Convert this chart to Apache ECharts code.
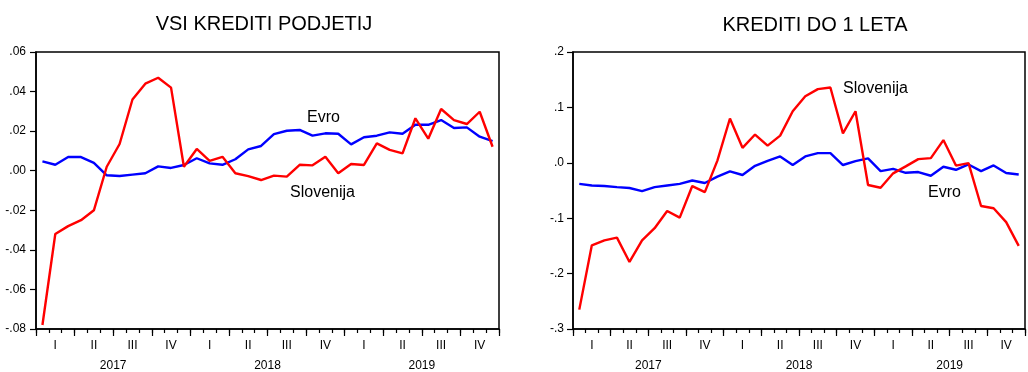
<!DOCTYPE html>
<html>
<head>
<meta charset="utf-8">
<script src="https://cdn.jsdelivr.net/npm/echarts@6/dist/echarts.min.js"></script>
<style>
  html, body { margin: 0; padding: 0; background: #fff; }
  #chart { width: 1028px; height: 372px; }
</style>
</head>
<body>
<div id="chart"></div>
<script>
// Monthly observations, Jan 2017 – Dec 2019
const months = [];
for (let y = 2017; y <= 2019; y++) {
  for (let m = 1; m <= 12; m++) months.push(y + '-' + String(m).padStart(2, '0'));
}
const quarterLabels = ['I', 'II', 'III', 'IV'];
const yearLabels = ['2017', '2018', '2019'];

// VSI KREDITI PODJETIJ
const allSlovenija = [
  -0.078, -0.032, -0.028, -0.025, -0.020, 0.002, 0.0135, 0.036, 0.044, 0.047, 0.042, 0.002,
  0.011, 0.005, 0.007, -0.0013, -0.0027, -0.0047, -0.0025, -0.003, 0.003, 0.0027, 0.007, -0.0013,
  0.0034, 0.0029, 0.0138, 0.0105, 0.0088, 0.0265, 0.0162, 0.0312, 0.0256, 0.0236, 0.0298, 0.0121
];
const allEvro = [
  0.0047, 0.003, 0.0069, 0.0069, 0.004, -0.0023, -0.0027, -0.002, -0.0013, 0.0022, 0.0014, 0.0029,
  0.0063, 0.0037, 0.003, 0.0058, 0.0108, 0.0125, 0.0185, 0.0202, 0.0206, 0.0177, 0.0189, 0.0187,
  0.0133, 0.0169, 0.0177, 0.0194, 0.0187, 0.0232, 0.0232, 0.0256, 0.0216, 0.0219, 0.0172, 0.0149
];

// KREDITI DO 1 LETA
const shortSlovenija = [
  -0.265, -0.149, -0.140, -0.135, -0.179, -0.140, -0.118, -0.087, -0.099, -0.042, -0.053, 0.004,
  0.080, 0.027, 0.051, 0.031, 0.049, 0.093, 0.120, 0.133, 0.136, 0.053, 0.093, -0.040,
  -0.045, -0.019, -0.0065, 0.0067, 0.0085, 0.041, -0.005, -0.0005, -0.078, -0.082, -0.107, -0.150
];
const shortEvro = [
  -0.038, -0.041, -0.042, -0.044, -0.0455, -0.051, -0.044, -0.041, -0.038, -0.032, -0.0365, -0.025,
  -0.0155, -0.022, -0.0054, 0.0036, 0.0115, -0.004, 0.0115, 0.0174, 0.0174, -0.004, 0.003, 0.0079,
  -0.015, -0.011, -0.018, -0.0167, -0.0234, -0.0072, -0.0126, -0.003, -0.015, -0.0047, -0.0185, -0.021
];

const FONT = '"Liberation Sans", Arial, sans-serif';
const INK = '#000';
const RED = '#ff0000';
const BLUE = '#0000ff';

function stripZero(v, digits) {
  const s = Math.abs(v) < 1e-9 ? (0).toFixed(digits) : v.toFixed(digits);
  return s.replace(/^(-?)0\./, '$1.');
}

function xAxesFor(gridIndex) {
  return [
    { // months: minor ticks and quarter labels
      type: 'category', gridIndex, data: months, boundaryGap: true, position: 'bottom',
      axisLine: { show: true, onZero: false, lineStyle: { color: INK, width: 1.5 } },
      axisTick: { show: true, interval: 0, length: 4, lineStyle: { color: INK, width: 1.2 } },
      axisLabel: {
        interval: (i) => i % 3 === 1,
        formatter: (v, i) => quarterLabels[Math.floor(i / 3) % 4],
        color: INK, fontFamily: FONT, fontSize: 12, margin: 11
      },
      splitLine: { show: false }
    },
    { // quarter boundaries: longer ticks
      type: 'category', gridIndex, data: months, boundaryGap: true, position: 'bottom',
      axisLine: { show: false, onZero: false },
      axisTick: { show: true, interval: (i) => i % 3 === 0, length: 7, lineStyle: { color: INK, width: 1.2 } },
      axisLabel: { show: false },
      splitLine: { show: false }
    },
    { // year labels centred under each year
      type: 'value', gridIndex, min: 0, max: 36, interval: 6, position: 'bottom',
      axisLine: { show: false, onZero: false }, axisTick: { show: false }, splitLine: { show: false },
      axisLabel: {
        formatter: (v) => (v % 12 === 6 ? yearLabels[(v - 6) / 12] : ''),
        showMinLabel: true, showMaxLabel: true,
        color: INK, fontFamily: FONT, fontSize: 12, margin: 31
      }
    }
  ];
}

function yAxisFor(gridIndex, min, max, interval, digits, margin) {
  return {
    type: 'value', gridIndex, min, max, interval,
    axisLine: { show: true, onZero: false, lineStyle: { color: INK, width: 1.5 } },
    axisTick: { show: true, length: 6, lineStyle: { color: INK, width: 1.2 } },
    splitLine: { show: false },
    axisLabel: {
      formatter: (v) => stripZero(v, digits),
      color: INK, fontFamily: FONT, fontSize: 12, margin
    }
  };
}

function line(name, data, color, xAxisIndex, yAxisIndex) {
  return {
    name, type: 'line', data, xAxisIndex, yAxisIndex,
    symbol: 'none', smooth: false,
    lineStyle: { color, width: 2.4 },
    itemStyle: { color },
    emphasis: { disabled: true }
  };
}

const chart = echarts.init(document.getElementById('chart'), null, { renderer: 'canvas' });

chart.setOption({
  animation: false,
  backgroundColor: '#fff',
  textStyle: { fontFamily: FONT },
  title: [
    { text: 'VSI KREDITI PODJETIJ', left: 259, top: 9, textAlign: 'center',
      textStyle: { fontFamily: FONT, fontSize: 20, fontWeight: 'normal', color: INK } },
    { text: 'KREDITI DO 1 LETA', left: 810, top: 10, textAlign: 'center',
      textStyle: { fontFamily: FONT, fontSize: 20, fontWeight: 'normal', color: INK } }
  ],
  grid: [
    { left: 36, top: 52, width: 463, height: 277, show: true, borderColor: INK, borderWidth: 1.5, backgroundColor: '#fff' },
    { left: 573, top: 52, width: 465, height: 278, show: true, borderColor: INK, borderWidth: 1.5, backgroundColor: '#fff' }
  ],
  xAxis: [...xAxesFor(0), ...xAxesFor(1)],
  yAxis: [
    yAxisFor(0, -0.08, 0.06, 0.02, 2, 10),
    yAxisFor(1, -0.3, 0.2, 0.1, 1, 9)
  ],
  series: [
    line('Evro', allEvro, BLUE, 0, 0),
    line('Slovenija', allSlovenija, RED, 0, 0),
    line('Evro', shortEvro, BLUE, 3, 1),
    line('Slovenija', shortSlovenija, RED, 3, 1)
  ],
  graphic: [
    { type: 'text', left: 307, top: 110, style: { text: 'Evro', font: '16px ' + FONT, fill: INK } },
    { type: 'text', left: 290, top: 185, style: { text: 'Slovenija', font: '16px ' + FONT, fill: INK } },
    { type: 'text', left: 843, top: 81, style: { text: 'Slovenija', font: '16px ' + FONT, fill: INK } },
    { type: 'text', left: 928, top: 185, style: { text: 'Evro', font: '16px ' + FONT, fill: INK } }
  ]
});
</script>
</body>
</html>
